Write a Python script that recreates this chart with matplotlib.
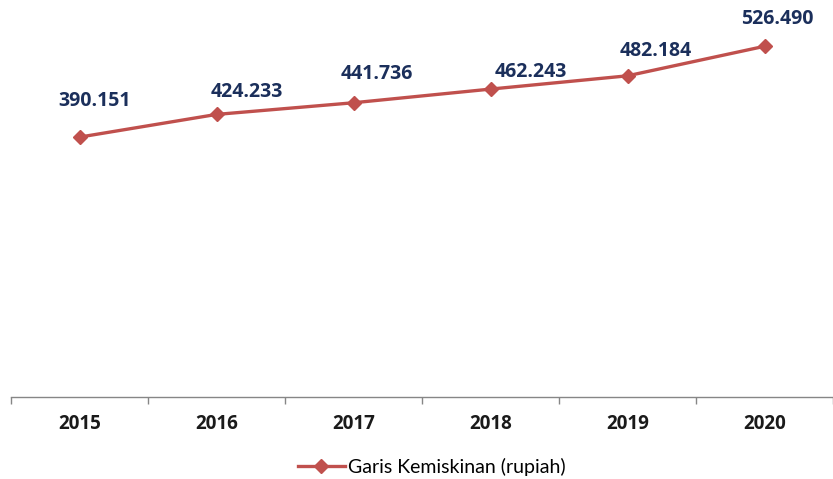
import matplotlib
matplotlib.use("Agg")
import matplotlib.pyplot as plt
from matplotlib.lines import Line2D

years = ["2015", "2016", "2017", "2018", "2019", "2020"]
values = [390151, 424233, 441736, 462243, 482184, 526490]
value_labels = ["390.151", "424.233", "441.736", "462.243", "482.184", "526.490"]
series_name = "Garis Kemiskinan (rupiah)"

# label offsets in points (style, not data)
label_dx = [11, 22, 17, 29, 20, 9]
label_dy = [26, 16, 21, 12, 18, 20]

W, H = 833, 479
fig = plt.figure(figsize=(W / 100, H / 100), dpi=100)
ax = fig.add_axes([11 / W, 82 / H, 822 / W, 397 / H])

red = "#C0504D"
x = list(range(len(years)))
ax.plot(x, values, color=red, lw=2.4, marker="D", ms=7.5, mec=red, mfc=red,
        solid_capstyle="round", zorder=3)

for i, (v, lab) in enumerate(zip(values, value_labels)):
    ax.annotate(lab, (i, v), xytext=(label_dx[i], label_dy[i]),
                textcoords="offset points", ha="center", va="center",
                fontsize=14, fontweight="bold", color="#1B2F5B",
                family="Open Sans")

ax.set_xlim(-0.5, -0.5 + 822 / 138.6)
ax.set_ylim(0, 596000)
for s in ["top", "right", "left"]:
    ax.spines[s].set_visible(False)
ax.spines["bottom"].set_color("#868686")
ax.spines["bottom"].set_linewidth(1.0)
ax.set_yticks([])
ax.set_xticks(x)
ax.set_xticklabels(years, fontsize=13.5, fontweight="bold", family="Open Sans", color="#1a1a1a")
ax.tick_params(axis="x", which="major", length=0, pad=12)
ax.set_xticks([i - 0.5 for i in range(len(years) + 1)], minor=True)
ax.tick_params(axis="x", which="minor", length=5, direction="out", color="#868686", width=1.0)

handle = Line2D([], [], color=red, lw=2.4, marker="D", ms=7.5, mfc=red, mec=red)
leg = fig.legend([handle], [series_name], loc="center",
                 bbox_to_anchor=(432 / W, 1 - 467 / H), frameon=False,
                 prop={"family": "Lato", "size": 14}, handlelength=2.4,
                 handletextpad=0.2)

fig.savefig("out.png", dpi=100)
